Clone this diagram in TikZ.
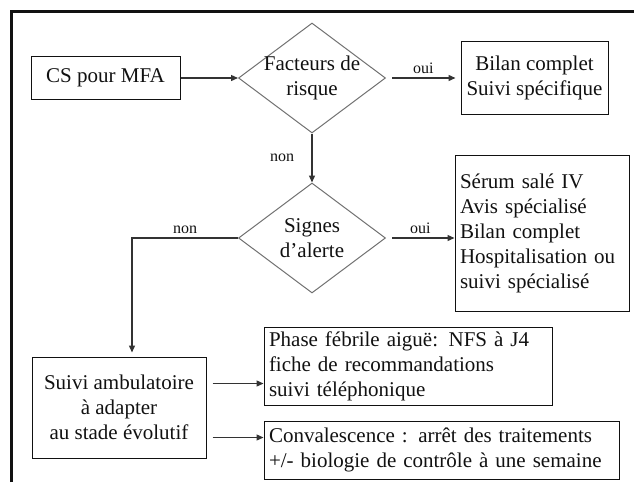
\documentclass[tikz,border=0pt]{standalone}
\usepackage{fontspec}
\setmainfont{Liberation Serif}
\usetikzlibrary{positioning, calc, arrows.meta, shapes.geometric}
\definecolor{Ink}{HTML}{111111}
\definecolor{Wire}{HTML}{333333}
\definecolor{Rim}{HTML}{707070}
\tikzset{
    box/.style={rectangle, draw=Ink, line width=1pt, inner sep=4pt, text=Ink, align=center, font=\fontsize{21}{25}\selectfont},
    listbox/.style={box, align=left, inner xsep=5pt},
    decision/.style={diamond, draw=Rim, line width=1pt, inner sep=0pt, minimum width=147pt, minimum height=110pt},
    question/.style={text=Ink, align=center, font=\fontsize{21}{25}\selectfont},
    arrow/.style={-{Triangle[length=7pt, width=6pt]}, line width=1.3pt, color=Wire},
    tag/.style={text=Ink, font=\fontsize{16}{18}\selectfont},
}

\begin{document}
\begin{tikzpicture}[x=1pt, y=-1pt]
    \useasboundingbox (0,0) rectangle (634,482);
    \draw[line width=3pt, Ink] (11,482) -- (11,11) -- (634,11);

    % Boxes and questions
    \node[box, minimum width=149pt, minimum height=43pt] (cs) at (105.5,78) {CS pour MFA};
    \node[decision, label={[question]center:Facteurs de\\risque}] (risk) at (312,78) {};
    \node[box, minimum width=147pt, minimum height=73pt, inner sep=0pt] (bilan) at (534.5,78) {Bilan complet\\Suivi spécifique};
    \node[decision, label={[question]center:Signes\\d'alerte}] (alert) at (312,238) {};
    \node[listbox, text width=164pt, minimum height=156pt] (serum) at (542,233)
        {Sérum salé IV\\Avis spécialisé\\Bilan complet\\Hospitalisation ou\\suivi spécialisé\\[6pt]};
    \node[box, minimum width=174pt, minimum height=101pt] (suivi) at (119,407.5)
        {Suivi ambulatoire\\à adapter\\au stade évolutif};
    \node[listbox, text width=278pt, minimum height=77pt] (phase) at (408,366.5)
        {Phase fébrile aiguë: NFS à J4\\fiche de recommandations\\suivi téléphonique};
    \node[listbox, text width=345pt, minimum height=58pt] (conv) at (441.5,450)
        {Convalescence : arrêt des traitements\\+/- biologie de contrôle à une semaine};

    % Connectors
    \draw[arrow] (cs) -- (risk);
    \draw[arrow, shorten <=6pt, shorten >=5pt] (risk) -- node[tag, above] (ouiA) {oui} (bilan);
    \draw[arrow] (risk) -- node[tag, left=14pt] (nonA) {non} (alert);
    \draw[arrow, shorten <=6pt] (alert.east) -- node[tag, above] (ouiB) {oui} (alert.east -| serum.west);
    \coordinate (turn) at (132,238);
    \draw[arrow, shorten >=4pt] (alert.west) -- node[tag, above] (nonB) {non} (turn) -- (turn |- suivi.north);
    \coordinate (outA) at ($(suivi.east)+(0,-24)$);
    \coordinate (outB) at ($(suivi.east)+(0,30)$);
    \draw[arrow, shorten <=6pt] (outA) -- (outA -| phase.west);
    \draw[arrow, shorten <=6pt] (outB) -- (outB -| conv.west);
\end{tikzpicture}
\end{document}
